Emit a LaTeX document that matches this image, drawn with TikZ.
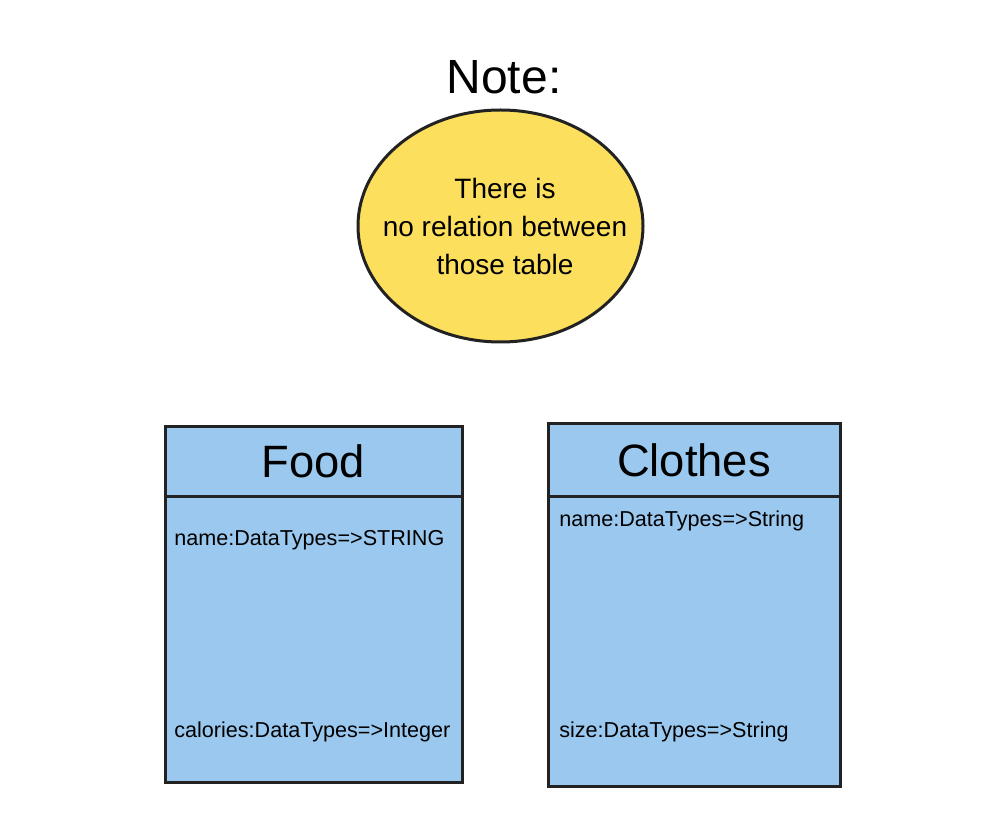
\documentclass[tikz,border=0pt]{standalone}
\usepackage{fontspec}
\setmainfont{Liberation Sans}
\usetikzlibrary{shapes.geometric,positioning}

\definecolor{notefill}{HTML}{FDDF5E}
\definecolor{tablefill}{HTML}{9BC8EE}
\definecolor{edgeline}{HTML}{222222}

\tikzset{
	notebubble/.style={ellipse,draw=edgeline,fill=notefill,line width=2.25pt,inner sep=0pt,
		minimum width=213.75pt,minimum height=174pt},
	notetext/.style={align=center,inner sep=0pt,font=\fontsize{21}{28.5}\selectfont},
	tablehead/.style={rectangle,draw=edgeline,fill=tablefill,line width=2.25pt,
		outer sep=0pt,inner sep=0pt,font=\fontsize{34}{40}\selectfont},
	tablebody/.style={rectangle,draw=edgeline,fill=tablefill,line width=2.25pt,
		outer sep=0pt,inner sep=0pt},
	attr/.style={anchor=west,inner sep=0pt,font=\fontsize{16.2}{19}\selectfont}
}

\begin{document}
\begin{tikzpicture}[x=0.75pt,y=-0.75pt]
		\useasboundingbox (0,0) rectangle (986,827);
%		\draw[help lines,step=50] (0,0) grid (986,827);
		\path (504,77) coordinate (title);
		\path (500.5,226) coordinate (centre);
		\path (505,226) coordinate (centre_txt);

		\path (313.5,461.5) coordinate (food_top);
		\path (174,540) coordinate (food_name);
		\path (174,732) coordinate (food_cal);

		\path (694,460) coordinate (clothes_top);
		\path (559,521) coordinate (clothes_name);
		\path (559,732) coordinate (clothes_size);

		% note
		\node (notetitle) at (title) {\fontsize{36}{40}\selectfont Note:};
		\node[notebubble] (note) at (centre) {};
		\node[notetext] (notemsg) at (centre_txt) {There is\\no relation between\\those table};

		% table Food
		\node[tablehead,minimum width=222.75pt,minimum height=51.75pt] (foodhead) at (food_top) {Food};
		\node[tablebody,minimum width=222.75pt,minimum height=214.5pt,below=0pt of foodhead] (foodbody) {};
		\node[attr] (foodnm) at (food_name) {name:DataTypes=>STRING};
		\node[attr] (foodcl) at (food_cal) {calories:DataTypes=>Integer};

		% table Clothes
		\node[tablehead,minimum width=219pt,minimum height=54pt] (clotheshead) at (clothes_top) {Clothes};
		\node[tablebody,minimum width=219pt,minimum height=217.5pt,below=0pt of clotheshead] (clothesbody) {};
		\node[attr] (clothesnm) at (clothes_name) {name:DataTypes=>String};
		\node[attr] (clothessz) at (clothes_size) {size:DataTypes=>String};

	\end{tikzpicture}
\end{document}
